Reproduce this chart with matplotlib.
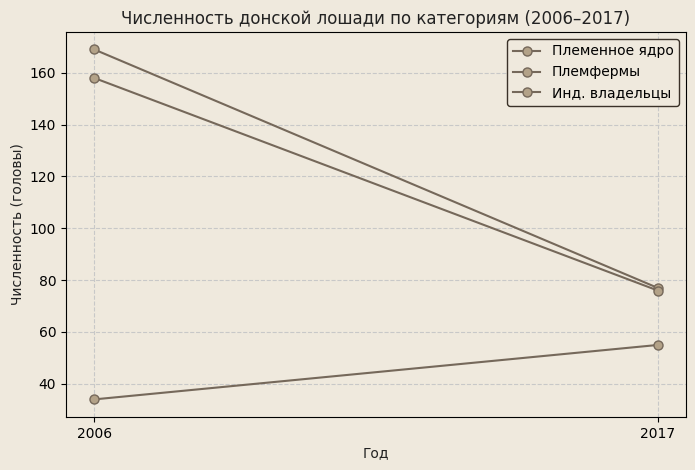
import matplotlib
matplotlib.use("Agg")
import matplotlib.pyplot as plt

years = [2006, 2017]
series_names = ["Племенное ядро", "Племфермы", "Инд. владельцы"]
plemennoe_yadro = [169, 77]
plemfermy = [158, 76]
ind_vladeltsy = [34, 55]
values = [plemennoe_yadro, plemfermy, ind_vladeltsy]

bg = "#EFE9DD"
fig = plt.figure(figsize=(6.95, 4.7), dpi=100, facecolor=bg)
ax = fig.add_axes([0.095, 0.113, 0.892, 0.819])
ax.set_facecolor(bg)

for name, v in zip(series_names, values):
    ax.plot(years, v, color="#75685A", linewidth=1.5, marker="o", markersize=6.5,
            markerfacecolor="#B3A288", markeredgecolor="#75685A", markeredgewidth=1.0,
            label=name)

ax.set_xticks(years)
ax.set_xticklabels([str(y) for y in years])
ax.grid(True, linestyle="--", color="#C8C8C8", linewidth=0.8)
ax.set_axisbelow(True)
ax.set_title("Численность донской лошади по категориям (2006–2017)", fontsize=12, color="#222222")
ax.set_xlabel("Год", fontsize=10, color="#222222")
ax.set_ylabel("Численность (головы)", fontsize=10, color="#222222")
leg = ax.legend(loc="upper right", facecolor=bg, edgecolor="#3A3128", framealpha=1.0, fontsize=10)
leg.get_frame().set_linewidth(1.0)

fig.savefig("out.png", dpi=100, facecolor=bg)
